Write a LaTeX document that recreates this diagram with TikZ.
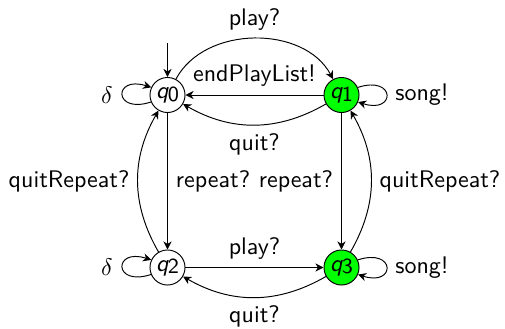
\documentclass[tikz,border=0pt]{standalone}
\usetikzlibrary{arrows.meta}
\begin{document}
\begin{tikzpicture}[x=0.4167pt, y=0.4167pt,
  >={Stealth[length=3.4pt,width=3.4pt,inset=1.1pt]}, font=\sffamily,
  state/.style={circle, draw, minimum size=14.6pt, inner sep=0pt},
  final/.style={state, fill=green}]
\useasboundingbox (0,0) rectangle (505,328);
\newcommand\qname[1]{{\slshape q}\kern-0.3pt\raisebox{-0.25ex}{\small #1}}

% states
\node[state] (q0) at (167.5,233) {\qname{0}};
\node[final] (q1) at (341.5,233) {\qname{1}};
\node[state] (q2) at (167.5,60.5) {\qname{2}};
\node[final] (q3) at (341.5,60.5) {\qname{3}};

% initial arrow
\coordinate (init) at (167.5,285);
\draw[->] (init) -- (q0);

% self loops
\draw[->] (q0.203) .. controls +(198:40) and +(162:40) .. (q0.155);
\node (d0) at (107,233) {$\delta$};
\draw[->] (q1.25) .. controls +(18:40) and +(-18:40) .. (q1.-23);
\node (s1) at (422,233) {song!};
\draw[->] (q2.203) .. controls +(198:40) and +(162:40) .. (q2.155);
\node (d2) at (107,60.5) {$\delta$};
\draw[->] (q3.25) .. controls +(18:40) and +(-18:40) .. (q3.-23);
\node (s3) at (422,60.5) {song!};

% transitions
\draw[->] (q0) to[bend left=62] node[above] {play?} (q1);
\draw[->] (q1) -- node[above] {endPlayList!} (q0);
\draw[->] (q1) to[bend left=30] node[below] {quit?} (q0);
\draw[->] (q0) -- node[right] {repeat?} (q2);
\draw[->] (q1) -- node[left] {repeat?} (q3);
\draw[->] (q2) to[bend left=30] node[left] {quitRepeat?} (q0);
\draw[->] (q3) to[bend right=30] node[right] {quitRepeat?} (q1);
\draw[->] (q2) -- node[above] {play?} (q3);
\draw[->] (q3) to[bend left=30] node[below] {quit?} (q2);
\end{tikzpicture}
\end{document}
